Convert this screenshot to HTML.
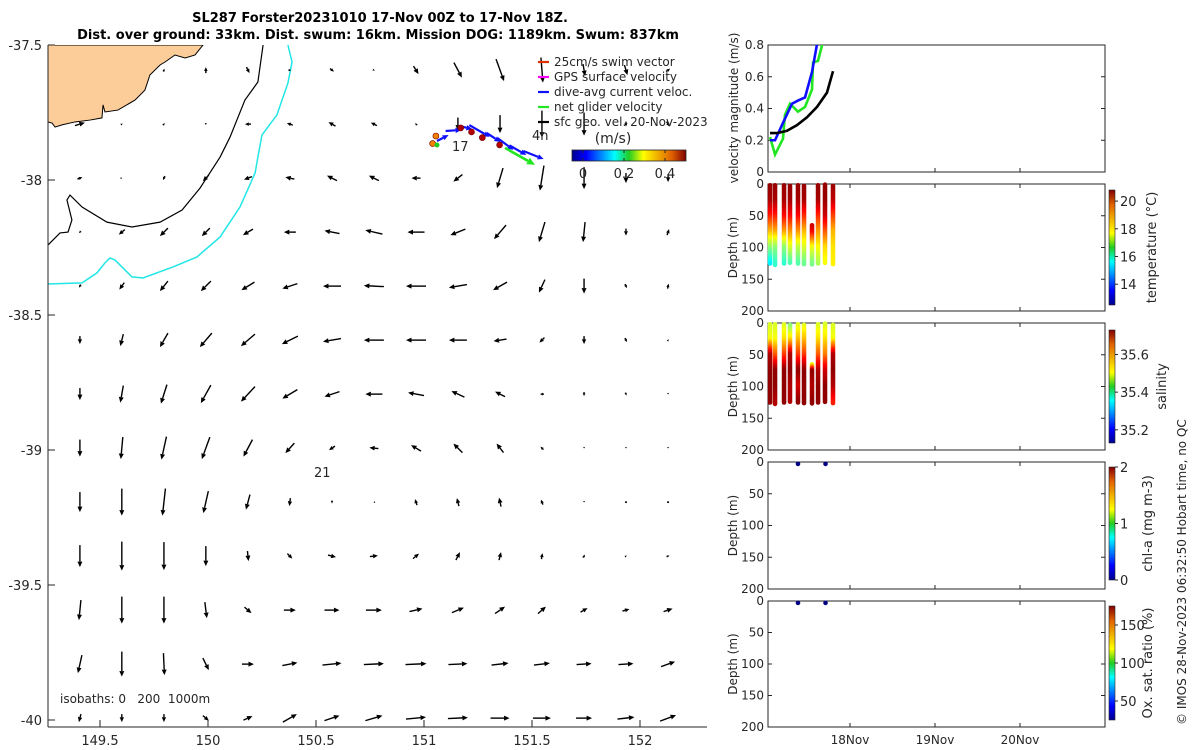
<!DOCTYPE html>
<html><head><meta charset="utf-8"><style>
html,body{margin:0;padding:0;background:#fff;width:1200px;height:750px;overflow:hidden}
svg text{font-family:"DejaVu Sans","Liberation Sans",sans-serif;fill:#262626}
</style></head><body>
<svg id="svg" width="1200" height="750" viewBox="0 0 1200 750" xmlns="http://www.w3.org/2000/svg">
<defs>
<clipPath id="mapclip"><rect x="48" y="45" width="659" height="682"/></clipPath>
<clipPath id="p1clip"><rect x="768" y="45" width="337" height="127"/></clipPath>
<linearGradient id="jeth" x1="0" x2="1" y1="0" y2="0">
<stop offset="0" stop-color="#00008f"/><stop offset="0.125" stop-color="#0000ff"/><stop offset="0.375" stop-color="#00ffff"/><stop offset="0.5" stop-color="#22cc22"/><stop offset="0.625" stop-color="#ffff00"/><stop offset="0.875" stop-color="#e06000"/><stop offset="1" stop-color="#800000"/></linearGradient>
<linearGradient id="jetv" x1="0" x2="0" y1="1" y2="0">
<stop offset="0" stop-color="#00008f"/><stop offset="0.125" stop-color="#0000ff"/><stop offset="0.375" stop-color="#00ffff"/><stop offset="0.5" stop-color="#22cc22"/><stop offset="0.625" stop-color="#ffff00"/><stop offset="0.875" stop-color="#e06000"/><stop offset="1" stop-color="#800000"/></linearGradient>
</defs>
<text x="380" y="22" text-anchor="middle" font-size="13" font-weight="bold" style="fill:#000">SL287 Forster20231010 17-Nov 00Z to 17-Nov 18Z.</text>
<text x="378" y="39" text-anchor="middle" font-size="13" font-weight="bold" style="fill:#000">Dist. over ground: 33km. Dist. swum: 16km. Mission DOG: 1189km. Swum: 837km</text>
<g id="map"></g>
<g id="panels"></g>
<text transform="translate(1186,725) rotate(-90)" font-size="12">© IMOS 28-Nov-2023 06:32:50 Hobart time, no QC</text>
</svg>
<script>
// ---------- map data ----------
const gridLon=[149.407,149.601,149.796,149.990,150.185,150.379,150.574,150.768,150.963,151.157,151.352,151.546,151.741,151.935,152.130];
const gridLat=[-37.593,-37.793,-37.993,-38.193,-38.393,-38.593,-38.793,-38.993,-39.193,-39.393,-39.593,-39.793,-39.993];
// east (u) and north (v) velocity, m/s
const geoU=[
[null,null,0.01,0.00,0.03,0.03,0.04,0.02,0.05,0.08,0.08,0.02,0.02,0.03,0.04],
[0.10,0.02,0.02,0.00,-0.06,-0.06,-0.07,-0.06,-0.02,0.00,0.00,0.00,0.00,0.00,0.03],
[0.05,0.01,-0.02,-0.06,-0.08,-0.09,-0.10,-0.10,-0.09,-0.09,-0.06,-0.04,0.00,0.00,0.00],
[-0.02,-0.06,-0.08,-0.08,-0.10,-0.12,-0.15,-0.17,-0.17,-0.15,-0.12,-0.06,-0.02,0.00,0.02],
[-0.02,-0.05,-0.08,-0.10,-0.13,-0.15,-0.18,-0.20,-0.20,-0.18,-0.14,-0.06,0.00,0.02,0.01],
[0.00,-0.03,-0.08,-0.12,-0.14,-0.16,-0.18,-0.20,-0.20,-0.18,-0.13,-0.05,0.00,0.02,0.01],
[0.00,-0.03,-0.06,-0.10,-0.14,-0.15,-0.15,-0.17,-0.16,-0.13,-0.10,-0.04,0.00,0.01,0.00],
[0.00,-0.02,-0.05,-0.08,-0.09,-0.09,-0.06,-0.09,-0.10,-0.09,-0.07,-0.03,0.00,0.00,0.00],
[0.00,0.00,-0.03,-0.05,-0.04,-0.01,0.00,-0.01,-0.02,-0.02,-0.02,-0.02,0.00,0.00,0.00],
[0.00,0.00,0.00,0.00,0.01,0.05,0.08,0.08,0.06,0.04,0.02,0.01,0.02,0.02,0.03],
[-0.02,0.00,0.00,0.02,0.07,0.12,0.15,0.16,0.13,0.12,0.10,0.08,0.07,0.07,0.09],
[-0.04,0.00,0.01,0.06,0.12,0.15,0.19,0.20,0.21,0.19,0.17,0.16,0.15,0.15,0.14],
[-0.02,0.00,0.00,0.06,0.09,0.14,0.15,0.17,0.20,0.20,0.19,0.18,0.16,0.17,0.16]];
const geoV=[
[null,null,0.03,0.06,-0.06,0.00,-0.03,-0.01,-0.08,-0.15,-0.22,-0.25,-0.12,-0.10,0.03],
[0.03,0.01,0.02,-0.02,0.00,0.02,0.04,0.03,0.02,-0.13,-0.18,-0.27,-0.23,-0.05,-0.05],
[0.02,0.00,-0.04,-0.06,-0.03,0.02,0.05,0.05,0.00,-0.07,-0.20,-0.25,-0.22,-0.10,-0.08],
[-0.02,-0.05,-0.08,-0.08,-0.06,0.00,0.03,0.04,0.00,-0.06,-0.14,-0.20,-0.20,-0.07,0.06],
[-0.03,-0.07,-0.10,-0.10,-0.08,-0.05,0.00,0.01,0.00,-0.03,-0.08,-0.13,-0.15,-0.04,0.05],
[-0.08,-0.12,-0.14,-0.14,-0.12,-0.08,-0.03,0.00,0.00,0.00,-0.02,-0.05,-0.08,-0.04,0.02],
[-0.12,-0.17,-0.19,-0.18,-0.15,-0.09,-0.05,0.00,0.03,0.06,0.05,0.00,-0.04,-0.03,-0.01],
[-0.17,-0.22,-0.23,-0.22,-0.17,-0.10,-0.04,0.01,0.06,0.09,0.09,0.03,-0.01,-0.01,-0.01],
[-0.20,-0.27,-0.27,-0.22,-0.15,-0.08,-0.03,0.00,0.06,0.08,0.09,0.05,-0.01,0.00,0.00],
[-0.22,-0.29,-0.28,-0.20,-0.10,-0.05,-0.02,0.01,0.05,0.08,0.08,0.06,0.03,0.01,0.01],
[-0.20,-0.27,-0.27,-0.16,-0.06,0.00,0.00,0.00,0.03,0.05,0.07,0.07,0.04,0.02,0.03],
[-0.18,-0.25,-0.22,-0.12,0.00,0.03,0.02,0.01,0.01,0.01,0.02,0.02,0.01,0.01,0.05],
[-0.08,-0.08,-0.08,-0.05,0.04,0.08,0.05,0.05,0.02,0.01,0.00,0.00,0.00,0.02,0.06]];
const latTicks=[-37.5,-38,-38.5,-39,-39.5,-40];
const lonTicks=[149.5,150,150.5,151,151.5,152];
const trackLon=[151.06,151.10,151.16,151.21,151.29,151.34,151.40,151.46,151.54];
const trackLat=[-37.863,-37.826,-37.807,-37.804,-37.833,-37.852,-37.881,-37.900,-37.915];
const dotLon=[151.04,151.055,151.17,151.22,151.27,151.35];
const dotLat=[-37.865,-37.837,-37.807,-37.822,-37.843,-37.870];
const netLon=[151.375,151.514];
const netLat=[-37.881,-37.944];
const cbTicks=[0,0.2,0.4];
// isobaths (lon,lat pairs)
const iso0Lon=[150.255,150.231,150.171,150.102,150.056,149.963,149.880,149.778,149.648,149.532,149.417,149.361,149.347,149.370,149.352,149.315,149.259];
const iso0Lat=[-37.5,-37.637,-37.704,-37.841,-37.915,-38.030,-38.111,-38.156,-38.174,-38.156,-38.100,-38.056,-38.074,-38.148,-38.193,-38.196,-38.241];
const iso200Lon=[150.370,150.389,150.370,150.319,150.250,150.231,150.218,150.148,150.056,149.949,149.838,149.699,149.648,149.569,149.546,149.523,149.486,149.417,149.259];
const iso200Lat=[-37.5,-37.563,-37.641,-37.759,-37.833,-37.915,-37.974,-38.100,-38.211,-38.285,-38.322,-38.363,-38.359,-38.296,-38.289,-38.307,-38.344,-38.381,-38.385];
const landLon=[149.259,149.977,149.940,149.894,149.847,149.801,149.778,149.731,149.708,149.662,149.583,149.523,149.514,149.509,149.454,149.384,149.324,149.292,149.278,149.259];
const landLat=[-37.5,-37.5,-37.537,-37.548,-37.537,-37.563,-37.574,-37.611,-37.667,-37.704,-37.741,-37.748,-37.722,-37.770,-37.778,-37.785,-37.796,-37.804,-37.789,-37.785];

// ---------- panel data ----------
const velTimeGreen=[17.059,17.118,17.212,17.235,17.294,17.388,17.471,17.553,17.565,17.624,17.70];
const velGreen=[0.22,0.11,0.21,0.36,0.43,0.38,0.41,0.52,0.69,0.70,0.86];
const velTimeBlue=[17.059,17.118,17.212,17.318,17.388,17.471,17.553,17.61,17.68];
const velBlue=[0.20,0.20,0.31,0.43,0.45,0.47,0.63,0.80,0.95];
const velTimeBlack=[17.059,17.141,17.259,17.376,17.494,17.612,17.729,17.8];
const velBlack=[0.245,0.245,0.26,0.295,0.345,0.41,0.50,0.635];
const velTicks=[0,0.2,0.4,0.6,0.8];
const profTime=[17.059,17.118,17.224,17.294,17.388,17.459,17.553,17.624,17.706,17.8];
const profMin=[2,2,2,3,2,3,65,2,1,3];
const profMax=[126,128,126,125,126,127,128,127,126,128];
const nodeDepth=[0,25,50,75,100,125];
const tempP=[
[20.6,20.5,19.6,18.3,16.8,15.5],[20.6,20.5,19.6,18.4,16.8,16.0],[20.6,20.5,19.8,18.5,16.8,16.0],
[20.6,20.5,19.8,18.6,17.4,16.2],[20.6,20.5,19.8,18.6,17.2,16.3],[20.6,20.5,19.5,18.3,17.4,16.5],
[20.6,20.6,20.6,19.9,17.6,16.6],[20.6,20.5,19.5,18.5,17.7,17.0],[20.6,20.6,20.2,19.1,18.0,17.6],
[20.6,20.3,19.3,18.3,17.9,17.8]];
const salP=[
[35.48,35.50,35.70,35.72,35.72,35.72],[35.48,35.50,35.60,35.72,35.72,35.70],[35.48,35.52,35.62,35.72,35.72,35.72],
[35.42,35.52,35.70,35.72,35.70,35.70],[35.48,35.54,35.62,35.72,35.68,35.72],[35.48,35.54,35.62,35.72,35.72,35.72],
[35.55,35.55,35.15,35.72,35.70,35.72],[35.48,35.52,35.60,35.70,35.72,35.72],[35.48,35.52,35.58,35.68,35.72,35.72],
[35.48,35.50,35.70,35.72,35.70,35.64]];
const chlTime=[17.388,17.712];
const chlDepth=[3,3];
const chlVal=[0.0,0.0];
const oxTime=[17.388,17.712];
const oxDepth=[3,3];
const oxVal=[25,25];
const depthTicks=[0,50,100,150,200];
const dayTicks=[18,19,20];
const dayLabels=['18Nov','19Nov','20Nov'];

// ---------- helpers ----------
const NS='http://www.w3.org/2000/svg';
function mk(tag,attrs,parent){const e=document.createElementNS(NS,tag);for(const k in attrs)e.setAttribute(k,attrs[k]);parent.appendChild(e);return e;}
const lonX=lon=>100+(lon-149.5)*216;
const latY=lat=>45+(-37.5-lat)*270;
function jet(t){t=Math.max(0,Math.min(1,t));const c=v=>Math.round(255*Math.max(0,Math.min(1,v)));
return `rgb(${c(1.5-Math.abs(4*t-3))},${c(1.5-Math.abs(4*t-2))},${c(1.5-Math.abs(4*t-1))})`;}
const map=document.getElementById('map');
const panels=document.getElementById('panels');

// ---------- map ----------
const mc=mk('g',{'clip-path':'url(#mapclip)'},map);
let land=mk('polygon',{points:landLon.map((l,i)=>lonX(l)+','+latY(landLat[i])).join(' '),fill:'#fccc99',stroke:'#000','stroke-width':1},mc);


let i0=mk('polyline',{points:iso0Lon.map((l,i)=>lonX(l)+','+latY(iso0Lat[i])).join(' '),fill:'none',stroke:'#000','stroke-width':1.2},mc);


let i2=mk('polyline',{points:iso200Lon.map((l,i)=>lonX(l)+','+latY(iso200Lat[i])).join(' '),fill:'none',stroke:'#22e6e6','stroke-width':1.5},mc);


function arrow(par,x1,y1,x2,y2,col,w,hs){
  const dx=x2-x1,dy=y2-y1,L=Math.hypot(dx,dy);if(L<0.3){mk('circle',{cx:x1,cy:y1,r:1,fill:col},par);return;}
  const ux=dx/L,uy=dy/L;const h=Math.min(hs,0.45*L+1.2),hw=h*0.45;
  const bx=x2-ux*h,by=y2-uy*h;
  mk('line',{x1:x1,y1:y1,x2:bx,y2:by,stroke:col,'stroke-width':w},par);
  mk('polygon',{points:`${x2},${y2} ${bx-uy*hw},${by+ux*hw} ${bx+uy*hw},${by-ux*hw}`,fill:col},par);
}
const ag=mk('g',{},mc);


const SC=100;
for(let r=0;r<gridLat.length;r++)for(let c=0;c<gridLon.length;c++){
  const u=geoU[r][c],v=geoV[r][c];if(u===null)continue;
  const x=lonX(gridLon[c]),y=latY(gridLat[r]);const dx=u*SC,dy=-v*SC;
  const g=mk('g',{},ag);
  
  
  arrow(g,x-dx/2,y-dy/2,x+dx/2,y+dy/2,'#000',1.4,5.5);
}
// track
const tg=mk('g',{},mc);


for(let i=0;i<trackLon.length-1;i++){
  const x1=lonX(trackLon[i]),y1=latY(trackLat[i]),x2=lonX(trackLon[i+1]),y2=latY(trackLat[i+1]);
  arrow(tg,x1,y1-2,x2+3,y2+2,'#1010ff',2.2,6);
}
arrow(tg,lonX(netLon[0]),latY(netLat[0]),lonX(netLon[1]),latY(netLat[1]),'#22e622',2.6,8);
for(let i=0;i<dotLon.length;i++){
  const d=mk('circle',{cx:lonX(dotLon[i]),cy:latY(dotLat[i]),r:3,fill:i<2?'#f08000':'#b00000',stroke:'#700','stroke-width':0.6},tg);
  
  
}
mk('circle',{cx:lonX(trackLon[0]),cy:latY(trackLat[0])+2,r:2.5,fill:'#22cc22'},tg);
// labels on map
[['17',452,151],['4h',532,140],['21',314,477]].forEach(a=>{const t=mk('text',{x:a[1],y:a[2],'font-size':13},map);t.textContent=a[0];

});
const iso=mk('text',{x:60,y:703,'font-size':12},map);iso.textContent='isobaths: 0\u00a0\u00a0 200\u00a0 1000m';


// axes
mk('line',{x1:48,y1:45,x2:48,y2:727,stroke:'#262626','stroke-width':1},map);
mk('line',{x1:48,y1:727,x2:707,y2:727,stroke:'#262626','stroke-width':1},map);
latTicks.forEach(l=>{const y=latY(l);mk('line',{x1:48,y1:y,x2:55,y2:y,stroke:'#262626'},map);
const t=mk('text',{x:42,y:y+5,'text-anchor':'end','font-size':13},map);t.textContent=String(l);

});
lonTicks.forEach(l=>{const x=lonX(l);mk('line',{x1:x,y1:727,x2:x,y2:720,stroke:'#262626'},map);
const t=mk('text',{x:x,y:745,'text-anchor':'middle','font-size':13},map);t.textContent=String(l);

});
// legend
const lg=mk('g',{},map);


const legItems=[['25cm/s swim vector','#e03000'],['GPS surface velocity','#ff00ff'],['dive-avg current veloc.','#1010ff'],['net glider velocity','#22e622'],['sfc geo. vel. 20-Nov-2023','#000']];
legItems.forEach((it,i)=>{const y=62+i*15;mk('line',{x1:538,y1:y,x2:549,y2:y,stroke:it[1],'stroke-width':2.2},lg);
const t=mk('text',{x:554,y:y+4,'font-size':12},lg);t.textContent=it[0];

});
// colorbar
const cb=mk('g',{},map);


const cbX=v=>583+v*205;
mk('rect',{x:572,y:150,width:114,height:11,fill:'url(#jeth)',stroke:'#262626','stroke-width':0.8},cb);
cbTicks.forEach(v=>{const x=cbX(v);mk('line',{x1:x,y1:150,x2:x,y2:153,stroke:'#262626'},cb);mk('line',{x1:x,y1:161,x2:x,y2:158,stroke:'#262626'},cb);
const t=mk('text',{x:x,y:178,'text-anchor':'middle','font-size':13},cb);t.textContent=String(v);});
const cbt=mk('text',{x:613,y:143,'text-anchor':'middle','font-size':14},cb);cbt.textContent='(m/s)';

// ---------- panels ----------
const tx=d=>850+(d-18)*85;
const PX0=768,PX1=1105;
function box(y0,y1,name){const r=mk('rect',{x:PX0,y:y0,width:PX1-PX0,height:y1-y0,fill:'none',stroke:'#262626','stroke-width':1},panels);

}
// panel 1
const P1T=45,P1B=172;const vy=v=>P1B-v*(P1B-P1T)/0.8;
box(P1T,P1B,'velocity-panel');
velTicks.forEach(v=>{const y=vy(v);mk('line',{x1:PX0,y1:y,x2:PX0+4,y2:y,stroke:'#262626'},panels);mk('line',{x1:PX1,y1:y,x2:PX1-4,y2:y,stroke:'#262626'},panels);
const t=mk('text',{x:764,y:y+4,'text-anchor':'end','font-size':12},panels);t.textContent=String(v);});
const vl=mk('text',{transform:'translate(738,108) rotate(-90)','text-anchor':'middle','font-size':12},panels);vl.textContent='velocity magnitude (m/s)';


const pc=mk('g',{'clip-path':'url(#p1clip)'},panels);
[[velTimeGreen,velGreen,'#22e622','line-net-velocity'],[velTimeBlue,velBlue,'#1010ff','line-dive-avg'],[velTimeBlack,velBlack,'#000','line-geostrophic']].forEach(s=>{
const p=mk('polyline',{points:s[0].map((t,i)=>tx(t)+','+vy(s[1][i])).join(' '),fill:'none',stroke:s[2],'stroke-width':2.6},pc);

});
// depth panels
const dpan=[[184,311],[323,450],[462,589],[601,727]];
function depthAxes(y0,y1,name){box(y0,y1,name);const dy=d=>y0+d*(y1-y0)/200;
depthTicks.forEach(d=>{const y=dy(d);mk('line',{x1:PX0,y1:y,x2:PX0+4,y2:y,stroke:'#262626'},panels);mk('line',{x1:PX1,y1:y,x2:PX1-4,y2:y,stroke:'#262626'},panels);
const t=mk('text',{x:764,y:y+4,'text-anchor':'end','font-size':12},panels);t.textContent=String(d);});
dayTicks.forEach(d=>{const x=tx(d);mk('line',{x1:x,y1:y1,x2:x,y2:y1-4,stroke:'#262626'},panels);mk('line',{x1:x,y1:y0,x2:x,y2:y0+4,stroke:'#262626'},panels);});
const l=mk('text',{transform:`translate(737,${(y0+y1)/2}) rotate(-90)`,'text-anchor':'middle','font-size':12},panels);l.textContent='Depth (m)';
return dy;}
dayTicks.forEach(d=>{const x=tx(d);mk('line',{x1:x,y1:P1B,x2:x,y2:P1B-4,stroke:'#262626'},panels);});
function colorbar(y0,y1,vmin,vmax,ticks,label,lx,name){
const g=mk('g',{},panels);


mk('rect',{x:1109,y:y0,width:6,height:y1-y0,fill:'url(#jetv)',stroke:'#262626','stroke-width':0.6},g);
ticks.forEach(v=>{const y=y1-(v-vmin)/(vmax-vmin)*(y1-y0);mk('line',{x1:1115,y1:y,x2:1118,y2:y,stroke:'#262626'},g);
const t=mk('text',{x:1120,y:y+5,'font-size':13},g);t.textContent=String(v);});
const t=mk('text',{transform:`translate(${lx},${(y0+y1)/2}) rotate(-90)`,'text-anchor':'middle','font-size':13},g);t.textContent=label;}
function interp(vals,d){for(let k=0;k<nodeDepth.length-1;k++){if(d<=nodeDepth[k+1]){const f=(d-nodeDepth[k])/(nodeDepth[k+1]-nodeDepth[k]);return vals[k]+(vals[k+1]-vals[k])*f;}}return vals[vals.length-1];}
function scatterPanel(idx,vals,vmin,vmax,name){
const [y0,y1]=dpan[idx];const dy=depthAxes(y0,y1,name+'-panel');
const g=mk('g',{},panels);


for(let p=0;p<profTime.length;p++){for(let d=profMin[p];d<=profMax[p];d+=2.2){
const v=interp(vals[p],d);mk('circle',{cx:tx(profTime[p]),cy:dy(d),r:2.3,fill:jet((v-vmin)/(vmax-vmin))},g);}}}
scatterPanel(0,tempP,12.5,20.8,'temperature');
colorbar(190,305,12.5,20.8,[14,16,18,20],'temperature (°C)',1156,'temperature-colorbar');
scatterPanel(1,salP,35.13,35.73,'salinity');
colorbar(330,443,35.13,35.73,[35.2,35.4,35.6],'salinity',1166,'salinity-colorbar');
function dotPanel(idx,times,depths,vals,vmin,vmax,name){const [y0,y1]=dpan[idx];const dy=depthAxes(y0,y1,name+'-panel');
times.forEach((t,i)=>{const c=mk('circle',{cx:tx(t),cy:dy(depths[i]),r:2.3,fill:jet((vals[i]-vmin)/(vmax-vmin))},panels);

});}
dotPanel(2,chlTime,chlDepth,chlVal,0,2,'chl-a');
colorbar(467,580,0,2,[0,1,2],'chl-a (mg m-3)',1152,'chl-colorbar');
dotPanel(3,oxTime,oxDepth,oxVal,25,175,'oxygen');
colorbar(606,720,25,175,[50,100,150],'Ox. sat. ratio (%)',1152,'oxygen-colorbar');
dayTicks.forEach((d,i)=>{const t=mk('text',{x:tx(d),y:744,'text-anchor':'middle','font-size':12},panels);t.textContent=dayLabels[i];

});
</script>
</body></html>
